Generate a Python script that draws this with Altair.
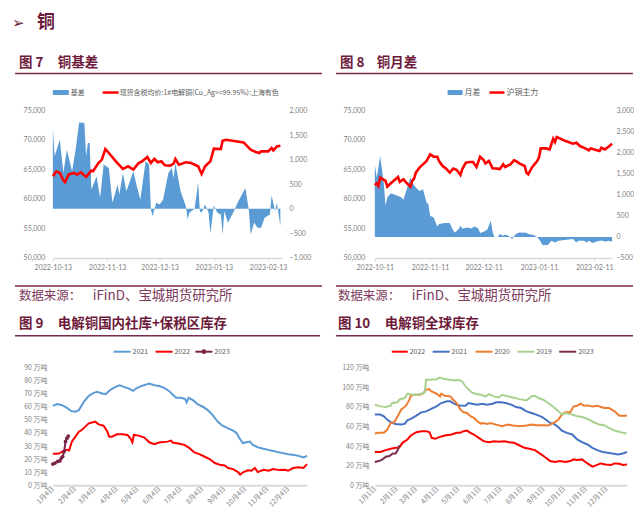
import altair as alt
import pandas as pd

# ---------------- data ----------------
# Figure 7: copper basis (area, right axis) and spot price (line, left axis)
c7_start = "2022-10-13"
c7_basis_days = [0, 1, 4, 6, 8, 11, 13, 15, 18, 19, 20, 21, 22, 25, 27, 29, 32, 34, 37, 38,
                 40, 42, 46, 48, 50, 53, 55, 56, 57, 59, 61, 63, 66, 68, 69, 70, 73, 76, 77, 78,
                 81, 83, 84, 85, 87, 89, 90, 92, 94, 96, 97, 98, 100, 103, 106, 110, 112, 113, 115, 117,
                 119, 121, 124, 125, 127, 128, 130]
c7_basis = [1642, 1068, 1405, 730, 1203, 763, 1203, 1757, 1743, 1068, 1338, 1338, 392, 662, 223, 899, 831, 122, 493, 291,
            730, 358, 763, 459, 189, 966, 899, -14, -149, 122, 88, 189, 730, 831, 628, 932, 358, 54, -216, -81,
            0, 540, -47, -81, 88, -81, -500, 68, -81, -115, -520, -47, -284, -81, 155, 426, -27, -520, -284, -385,
            -385, -182, -115, 270, -47, 122, -351]
c7_price_days = [0, 2, 4, 6, 7, 9, 12, 14, 16, 19, 22, 23, 26, 28, 30, 32, 36, 40, 43, 46,
                 49, 51, 54, 56, 58, 60, 62, 64, 67, 69, 70, 72, 76, 79, 83, 85, 87, 90, 92, 96,
                 97, 99, 109, 113, 116, 118, 119, 123, 125, 126, 128, 130]
c7_price = [63851, 64696, 64414, 63176, 62838, 64133, 64414, 64133, 64527, 63738, 64809, 64696, 66103, 66667, 68468, 67793, 66385, 65090, 65540, 64978,
            66103, 66385, 67117, 66103, 66779, 66216, 66385, 65709, 65653, 65991, 66779, 65822, 66216, 66103, 65540, 64245, 65540, 66385, 68525, 68468,
            69876, 70045, 69595, 68356, 67962, 67793, 68074, 68074, 68637, 68243, 68919, 69032]
c7_xticks = ["2022-10-13", "2022-11-13", "2022-12-13", "2023-01-13", "2023-02-13"]

# Figure 8: copper month spread (area, right axis) and SHFE main contract (line, left axis)
c8_start = "2022-10-11"
c8_spread_days = [0, 1, 2, 3, 5, 6, 7, 9, 12, 15, 16, 17, 19, 20, 21, 23, 25, 27, 29, 30,
                  31, 33, 35, 36, 39, 42, 44, 45, 47, 48, 49, 52, 54, 56, 58, 59, 61, 63, 65, 66,
                  67, 69, 70, 72, 73, 75, 77, 79, 81, 85, 86, 89, 91, 93, 94, 97, 99, 101, 103, 111,
                  113, 114, 117, 119, 120, 122, 124, 126, 128, 129, 131, 133]
c8_spread = [1723, 1408, 1644, 1919, 1288, 738, 935, 1037, 990, 935, 880, 1014, 1288, 1408, 1288, 1172, 1092, 1132, 817, 777,
             501, 462, 249, 304, 328, 328, 146, 107, 186, 265, 202, 225, 202, 249, 202, 91, 123, 170, 383, 123,
             0, 0, 68, 28, 52, 28, -50, 68, 107, 99, 68, 44, 0, -114, -193, -193, -90, -130, -90, -50,
             -130, -90, -90, -130, -90, -145, -114, -90, -90, -114, -90, -114]
c8_price_days = [0, 1, 2, 3, 6, 7, 9, 13, 14, 16, 18, 20, 21, 22, 23, 25, 27, 29, 31, 33,
                 35, 36, 38, 40, 42, 44, 46, 48, 49, 51, 53, 55, 57, 59, 61, 62, 64, 66, 69, 70,
                 72, 73, 76, 78, 79, 81, 84, 85, 86, 88, 91, 92, 93, 96, 98, 100, 101, 102, 107, 111,
                 113, 115, 118, 120, 121, 124, 126, 127, 129, 131, 133]
c8_price = [62327, 62665, 62214, 63621, 63059, 62101, 62665, 63734, 62890, 63340, 62665, 62101, 63059, 63453, 64466, 65311, 65874, 66437, 67563, 67169,
            67169, 66437, 65592, 65142, 64466, 65142, 64917, 64072, 65029, 66155, 66268, 66268, 65423, 67169, 66606, 66043, 66437, 65198, 65142, 65029,
            65874, 65423, 65874, 66549, 66437, 66043, 65592, 64466, 64185, 65311, 66437, 67000, 68576, 68576, 68407, 70209, 69646, 70490, 69815, 69364,
            69533, 68970, 68576, 68239, 68576, 68295, 68126, 68689, 68407, 68857, 69364]
c8_xticks = ["2022-10-11", "2022-11-11", "2022-12-11", "2023-01-11", "2023-02-11"]

# Figure 9: domestic social + bonded inventory (10k t), days from Jan 4
c9_start = "2022-01-04"
c9_2021_days = [0, 6, 13, 20, 26, 32, 37, 44, 51, 58, 63, 70, 75, 82, 89, 95, 101, 108, 114, 118,
                125, 132, 137, 144, 151, 158, 165, 170, 175, 182, 188, 190, 193, 199, 206, 213, 220, 227, 234, 241,
                249, 256, 261, 265, 270, 275, 280, 284, 291, 299, 306, 313, 320, 327, 334, 341, 349, 356, 361]
c9_2021 = [60.8, 62.1, 61.3, 59.3, 56.8, 56.3, 57.5, 63.9, 68.4, 70.7, 71.5, 70.2, 69.7, 73.2, 75.3, 76.5, 75.3, 74.0, 72.2, 74.0,
           75.8, 77.0, 77.8, 76.5, 76.0, 74.5, 72.2, 69.4, 66.9, 66.9, 65.9, 63.4, 66.9, 65.1, 61.8, 60.1, 57.5, 53.7, 48.7, 45.6,
           43.6, 41.8, 39.8, 36.0, 32.2, 32.9, 33.4, 30.9, 29.1, 27.9, 27.1, 26.3, 25.3, 24.6, 23.8, 23.3, 22.5, 21.3, 22.5]
c9_2022_days = [0, 6, 10, 15, 20, 23, 27, 32, 37, 41, 46, 51, 56, 60, 65, 72, 77, 80, 84, 91,
                99, 106, 110, 113, 115, 122, 130, 137, 144, 151, 163, 168, 170, 180, 187, 194, 201, 208, 215, 222,
                230, 237, 244, 249, 256, 263, 266, 270, 277, 282, 287, 291, 299, 306, 313, 322, 330, 334, 341, 349,
                356, 361]
c9_2022 = [24.1, 24.1, 24.6, 26.3, 27.1, 26.6, 33.4, 37.2, 41.0, 42.3, 44.9, 47.4, 48.1, 48.7, 46.6, 45.6, 41.5, 37.2, 37.2, 39.0,
           39.0, 38.5, 36.0, 32.9, 38.5, 38.0, 36.5, 32.9, 31.4, 32.7, 33.4, 34.2, 32.7, 31.7, 30.9, 28.4, 25.1, 23.8, 22.0, 20.3,
           17.0, 15.7, 15.2, 13.2, 12.4, 10.1, 8.1, 9.9, 11.4, 11.1, 13.2, 10.1, 11.9, 11.1, 12.4, 11.6, 11.9, 11.1, 13.2, 13.7,
           13.2, 16.2]
c9_2023_days = [0, 3, 7, 10, 12, 14, 16, 18, 20, 22]
c9_2023 = [16.2, 17.0, 18.2, 18.7, 20.8, 22.0, 25.8, 33.4, 36.0, 37.7]

# Figure 10: global inventory (10k t), days from Jan 1
c10_start = "2019-01-01"
c10_2022_days = [0, 8, 16, 23, 30, 35, 40, 47, 52, 60, 67, 74, 79, 82, 87, 94, 101, 111, 118, 123,
                 128, 133, 138, 143, 150, 157, 165, 172, 179, 187, 194, 201, 209, 216, 223, 231, 238, 245, 253, 260,
                 267, 275, 282, 287, 292, 299, 304, 309, 314, 319, 326, 333, 341, 346, 353, 358, 364]
c10_2022 = [33.9, 33.9, 35.9, 37.2, 38.2, 38.2, 43.3, 46.7, 50.8, 54.1, 55.2, 55.2, 54.1, 48.4, 47.4, 49.4, 50.8, 51.8, 53.5, 53.5,
            55.2, 55.8, 53.5, 51.8, 48.4, 45.0, 44.0, 45.0, 44.3, 45.0, 44.0, 43.3, 40.6, 38.2, 37.2, 35.9, 32.5, 29.1, 24.7, 23.7,
            24.7, 23.7, 24.7, 26.4, 25.7, 26.4, 23.7, 21.3, 19.0, 20.3, 22.3, 21.3, 20.7, 22.3, 22.0, 20.7, 21.3]
c10_2021_days = [0, 8, 13, 18, 23, 30, 38, 43, 47, 52, 60, 67, 74, 82, 89, 96, 104, 109, 113, 118,
                 123, 131, 135, 140, 148, 155, 162, 170, 175, 182, 189, 197, 204, 211, 219, 226, 233, 241, 248, 253,
                 258, 265, 270, 277, 285, 292, 299, 307, 314, 321, 329, 336, 343, 351, 358, 364]
c10_2021 = [72.1, 72.1, 70.4, 67.0, 64.3, 62.6, 61.9, 62.6, 66.3, 67.7, 71.0, 74.4, 75.4, 78.1, 80.5, 83.9, 85.6, 85.6, 83.9, 82.2,
            81.5, 81.2, 83.9, 83.2, 82.2, 83.2, 82.2, 83.2, 84.6, 84.6, 83.9, 82.2, 79.8, 78.8, 75.4, 73.7, 72.1, 69.7, 66.3, 63.6,
            62.9, 59.2, 55.8, 53.5, 51.8, 46.7, 44.0, 41.6, 38.2, 35.9, 33.9, 33.2, 32.5, 31.5, 32.5, 33.9]
c10_2020_days = [0, 6, 13, 18, 23, 28, 33, 38, 45, 50, 52, 57, 65, 69, 74, 78, 82, 89, 94, 96,
                 101, 109, 113, 118, 123, 128, 133, 138, 143, 148, 153, 157, 162, 167, 175, 184, 192, 199, 209, 219,
                 226, 233, 243, 250, 255, 260, 265, 270, 275, 282, 287, 292, 297, 302, 307, 314, 321, 331, 338, 346,
                 353, 360, 364]
c10_2020 = [52.8, 53.5, 53.5, 56.8, 63.6, 64.3, 70.4, 77.1, 81.2, 87.3, 91.3, 92.3, 92.3, 93.4, 97.4, 98.1, 95.7, 93.4, 90.7, 93.4,
            91.3, 90.7, 87.3, 83.9, 77.8, 74.4, 73.7, 70.4, 68.7, 65.3, 62.9, 63.6, 62.6, 63.6, 61.9, 60.2, 61.9, 60.9, 60.2, 60.9,
            61.9, 61.2, 61.2, 60.9, 62.6, 64.3, 67.0, 72.1, 74.4, 74.4, 80.5, 81.2, 83.2, 81.2, 81.5, 80.5, 81.2, 78.8, 78.8, 75.4,
            71.0, 71.0, 71.0]
c10_2019_days = [0, 8, 16, 23, 25, 33, 35, 43, 47, 55, 62, 67, 72, 74, 79, 89, 94, 99, 108, 116,
                 121, 126, 131, 135, 140, 145, 153, 160, 165, 172, 179, 184, 192, 199, 209, 219, 226, 231, 236, 243,
                 250, 258, 265, 270, 275, 285, 292, 299, 307, 316, 324, 331, 338, 346, 355, 363]
c10_2019 = [82.2, 80.5, 79.8, 81.2, 83.9, 84.6, 87.3, 89.0, 93.4, 92.3, 92.3, 93.4, 94.7, 107.6, 107.6, 108.2, 109.9, 108.6, 107.6, 106.9,
            107.6, 105.9, 100.8, 98.1, 94.7, 93.4, 92.3, 90.7, 93.0, 90.7, 89.6, 92.3, 90.7, 89.6, 87.9, 86.6, 90.7, 91.3, 89.0, 87.3,
            83.9, 79.8, 75.4, 72.1, 73.7, 72.1, 70.4, 69.7, 67.7, 64.3, 61.9, 61.2, 58.5, 55.8, 54.1, 52.8]
c10_2023_days = [0, 6, 11, 16, 21, 26, 30, 33, 35]
c10_2023 = [23.7, 24.7, 26.4, 29.1, 29.8, 32.5, 32.5, 35.9, 40.6]

# ---------------- styling ----------------
MAROON = "#6D1A3B"
MLINE = "#7E2A4C"
SRC = "#7C3A5C"
GRAY = "#7F7F7F"
LEG = "#595959"
BLUE = "#5B9BD5"
RED = "#FF0000"
CJK = "Noto Sans CJK SC"
NUM = "Lato"
ONE = alt.Data(values=[{"a": 1}])


def frame(start, days, vals):
    base = pd.Timestamp(start)
    return pd.DataFrame({"date": [base + pd.Timedelta(days=int(d)) for d in days], "v": vals})


def dt(s):
    t = pd.Timestamp(s)
    return alt.DateTime(year=t.year, month=t.month, date=t.day)


def txt(s, x, y, size=7, color=LEG, weight="normal", font=CJK):
    return alt.Chart(ONE).mark_text(text=s, align="left", baseline="middle", fontSize=size,
                                    color=color, fontWeight=weight, font=font).encode(
        x=alt.value(x), y=alt.value(y))


def hline(x1, x2, y, color, width):
    return alt.Chart(ONE).mark_rule(color=color, strokeWidth=width).encode(
        x=alt.value(x1), x2=alt.value(x2), y=alt.value(y))


def box(x1, x2, y1, y2, color):
    return alt.Chart(ONE).mark_rect(color=color).encode(
        x=alt.value(x1), x2=alt.value(x2), y=alt.value(y1), y2=alt.value(y2))


def dot(x, y, color):
    return alt.Chart(ONE).mark_point(filled=True, color=color, size=22, opacity=1).encode(
        x=alt.value(x), y=alt.value(y))


def x_axis_dates(ticks):
    return alt.Axis(values=[dt(t) for t in ticks], format="%Y-%m-%d", title=None, grid=False,
                    labelFontSize=7, labelColor=GRAY, labelFont=NUM, labelPadding=3,
                    domainColor="#D9D9D9", domainWidth=1.5, tickColor="#D9D9D9", tickSize=3,
                    labelFlush=False, labelOverlap=False)


def y_axis(orient, values, pad):
    return alt.Axis(orient=orient, values=values, format=",.0f", title=None, grid=False, domain=False,
                    ticks=False, labelFontSize=7, labelColor=GRAY, labelFont=NUM, labelPadding=pad)


def dual_panel(area_df, line_df, x_dom, ticks, left_dom, right_dom, right_vals, w, h, lpad, rpad, decos):
    xenc = alt.X("date:T", scale=alt.Scale(domain=[dt(x_dom[0]), dt(x_dom[1])]), axis=x_axis_dates(ticks))
    area = alt.Chart(area_df).mark_area(color=BLUE, opacity=1).encode(
        x=xenc,
        y=alt.Y("v:Q", scale=alt.Scale(domain=right_dom, nice=False),
                axis=y_axis("right", right_vals, rpad)),
        y2=alt.datum(0))
    line = alt.Chart(line_df).mark_line(color=RED, strokeWidth=2.6).encode(
        x=xenc,
        y=alt.Y("v:Q", scale=alt.Scale(domain=left_dom, nice=False),
                axis=y_axis("left", list(range(50000, 75001, 5000)), lpad)))
    return alt.layer(area, line, *decos).resolve_scale(y="independent").properties(width=w, height=h)


def month_axis(ticks, size=7):
    return alt.Axis(values=[dt(t) for t in ticks], format="%-m月%-d日", title=None, grid=False,
                    labelAngle=-45, labelAlign="right", labelBaseline="middle", labelFontSize=size,
                    labelColor=GRAY, labelFont=CJK, labelPadding=2, ticks=False,
                    domainColor="#D9D9D9", domainWidth=2, labelOverlap=False, labelFlush=False)


def inv_panel(series, x_dom, ticks, y_max, y_step, w, h, decos):
    xenc = alt.X("date:T", scale=alt.Scale(domain=[dt(x_dom[0]), dt(x_dom[1])]), axis=month_axis(ticks))
    yenc = alt.Y("v:Q", scale=alt.Scale(domain=[0, y_max], nice=False),
                 axis=alt.Axis(values=list(range(0, y_max + 1, y_step)), labelExpr="datum.value + ' 万吨'",
                               title=None, grid=False, domain=False, ticks=False, labelFontSize=7,
                               labelColor=GRAY, labelFont=CJK, labelPadding=6))
    layers = []
    for df, color, pts in series:
        mk = alt.Chart(df).mark_line(color=color, strokeWidth=2,
                                     point=alt.OverlayMarkDef(filled=True, color=color, size=14) if pts else False)
        layers.append(mk.encode(x=xenc, y=yenc))
    return alt.layer(*layers, *decos).properties(width=w, height=h)


# ---------------- panel 7 ----------------
d7 = [
    txt("➢", -41, -88, size=15, color=MAROON, font="DejaVu Sans"),
    txt("铜", -16, -88, size=18, color=MAROON, weight="bold"),
    txt("图 7", -34, -48, size=13.5, color=MAROON, weight="bold"),
    txt("铜基差", 5, -48, size=13.5, color=MAROON, weight="bold"),
    hline(-38, 270, -37, MLINE, 1.5),
    box(0, 16, -20.5, -15.5, BLUE),
    txt("基差", 18, -18, size=7),
    hline(50, 66, -18, RED, 2.5),
    txt("现货含税均价:1#电解铜(Cu_Ag>=99.95%):上海有色", 67, -18, size=7),
    hline(-38, 270, 176, MLINE, 1.5),
    txt("数据来源：", -34, 186, size=12.5, color=SRC),
    txt("iFinD、宝城期货研究所", 40, 186, size=13.5, color=SRC),
]
p7 = dual_panel(frame(c7_start, c7_basis_days, c7_basis), frame(c7_start, c7_price_days, c7_price),
                ["2022-10-13", "2023-02-21"], c7_xticks, [50000, 75000], [-1000, 2000],
                list(range(-1000, 2001, 500)), 230, 148, 8, 7, d7)

# ---------------- panel 8 ----------------
d8 = [
    txt("图 8", -35, -48, size=13.5, color=MAROON, weight="bold"),
    txt("铜月差", 2, -48, size=13.5, color=MAROON, weight="bold"),
    hline(-39, 259, -37, MLINE, 1.5),
    box(73, 88, -20.5, -15.5, BLUE),
    txt("月差", 90, -18, size=8),
    hline(115, 130, -18, RED, 2.5),
    txt("沪铜主力", 132, -18, size=8),
    hline(-39, 259, 176, MLINE, 1.5),
    txt("数据来源：", -37, 186, size=12.5, color=SRC),
    txt("iFinD、宝城期货研究所", 37, 186, size=13.5, color=SRC),
]
p8 = dual_panel(frame(c8_start, c8_spread_days, c8_spread), frame(c8_start, c8_price_days, c8_price),
                ["2022-10-11", "2023-02-21"], c8_xticks, [50000, 75000], [-500, 3000],
                list(range(-500, 3001, 500)), 238, 148, 10, 4, d8)

# ---------------- panel 9 ----------------
C21 = "#5B9BD5"
C23 = "#7B2346"
d9 = [
    txt("图 9", -34, -44, size=13.5, color=MAROON, weight="bold"),
    txt("电解铜国内社库+保税区库存", 5, -44, size=13.5, color=MAROON, weight="bold"),
    hline(-38, 268, -32, MLINE, 1.5),
    hline(61, 78, -16, C21, 2), txt("2021", 80, -16, size=7),
    hline(103, 120, -16, RED, 2), txt("2022", 122, -16, size=7),
    hline(143, 160, -16, C23, 2), dot(151.5, -16, C23), txt("2023", 162, -16, size=7),
]
p9_ticks = [f"2022-{m:02d}-04" for m in range(1, 13)]
p9 = inv_panel([(frame(c9_start, c9_2021_days, c9_2021), C21, False),
                (frame(c9_start, c9_2022_days, c9_2022), RED, False),
                (frame(c9_start, c9_2023_days, c9_2023), C23, True)],
               ["2022-01-04", "2022-12-31"], p9_ticks, 90, 10, 255, 118, d9)

# ---------------- panel 10 ----------------
B21 = "#4472C4"
O20 = "#ED7D31"
G19 = "#A9D18E"
M23 = "#7B2C50"
d10 = [
    txt("图 10", -37, -44, size=13.5, color=MAROON, weight="bold"),
    txt("电解铜全球库存", 10, -44, size=13.5, color=MAROON, weight="bold"),
    hline(-39, 259, -32, MLINE, 1.5),
    hline(17, 33, -16, RED, 2), txt("2022", 35, -16, size=7),
    hline(58, 75, -16, B21, 2), txt("2021", 77, -16, size=7),
    hline(101, 118, -16, O20, 2), txt("2020", 120, -16, size=7),
    hline(143, 160, -16, G19, 2), txt("2019", 162, -16, size=7),
    hline(185, 202, -16, M23, 2), txt("2023", 204, -16, size=7),
]
p10_ticks = [f"2019-{m:02d}-01" for m in range(1, 13)]
p10 = inv_panel([(frame(c10_start, c10_2022_days, c10_2022), RED, False),
                 (frame(c10_start, c10_2021_days, c10_2021), B21, False),
                 (frame(c10_start, c10_2020_days, c10_2020), O20, False),
                 (frame(c10_start, c10_2019_days, c10_2019), G19, False),
                 (frame(c10_start, c10_2023_days, c10_2023), M23, False)],
                ["2019-01-01", "2019-12-31"], p10_ticks, 120, 20, 253, 118, d10)

chart = alt.concat(p7, p8, p9, p10, columns=2, spacing={"row": 110, "column": 68}, bounds="flush").properties(
    padding={"left": 4, "top": 5, "right": 0, "bottom": 0}, background="white"
).configure_view(stroke=None)

chart.save("out.html", embed_options={"renderer": "svg", "actions": False})
